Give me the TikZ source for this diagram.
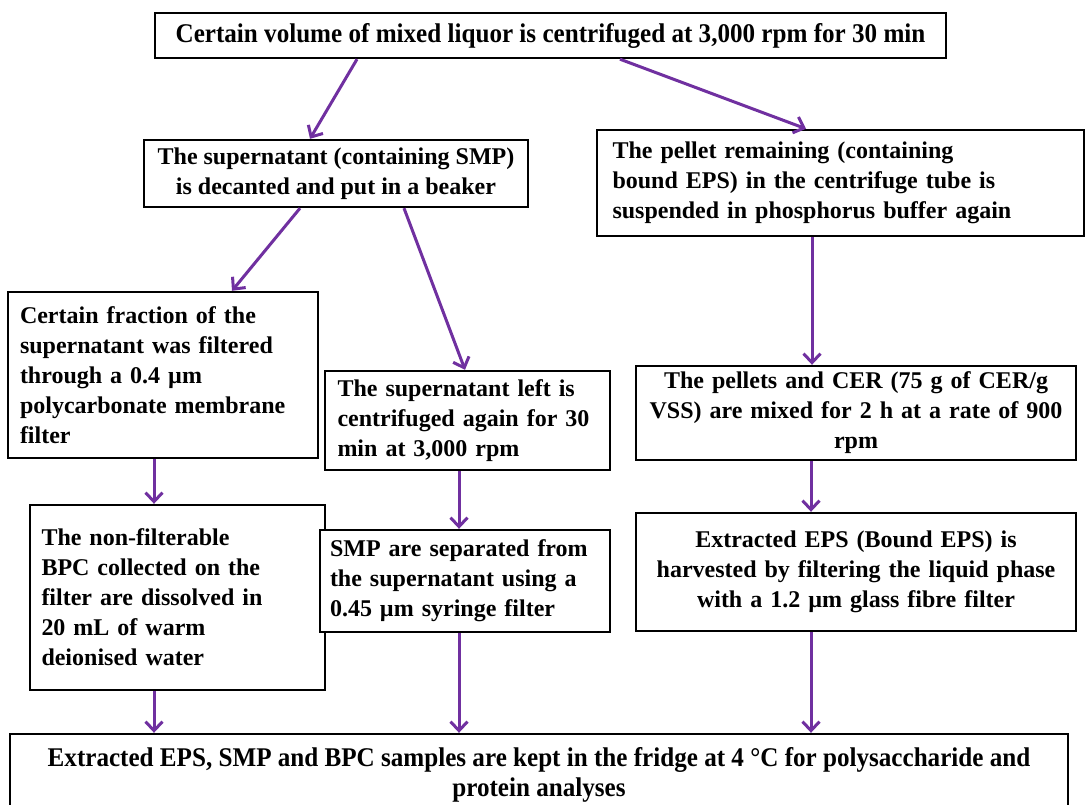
\documentclass[tikz,border=0pt]{standalone}
\usepackage{fontspec}
\setmainfont{Liberation Serif}
\usepackage{xcolor}
\usetikzlibrary{arrows.meta, calc}
\definecolor{FlowPurple}{HTML}{7030A0}
\definecolor{FlowBlack}{HTML}{000000}
\definecolor{FlowWhite}{HTML}{FFFFFF}
\newfontfamily\narrowfont{Liberation Serif}[FakeStretch=0.93]
\tikzset{
    stepbox/.style={
        draw=FlowBlack,
        line width=2.4pt,
        fill=FlowWhite,
        text=FlowBlack,
        font=\fontsize{24}{30}\selectfont\bfseries,
        inner xsep=8pt,
        inner ysep=2pt,
        align=left
    },
    widebox/.style={
        stepbox,
        font=\fontsize{27}{30}\selectfont\narrowfont\bfseries,
        align=center
    },
    flow/.style={
        -{Straight Barb[length=9pt,width=17pt,line width=3pt]},
        line width=3pt,
        FlowPurple
    }
}

\begin{document}
\begin{tikzpicture}[x=1pt, y=-1pt]
        \useasboundingbox (0,0) rectangle (1087,805);

        % First centrifuging
        \node[widebox, minimum width=791pt, minimum height=45pt] (mix) at (550.5,35.5) {Certain volume of mixed liquor is centrifuged at 3,000 rpm for 30 min};

        % Second row
        \node[stepbox, align=center, minimum width=384pt, minimum height=67pt] (sup) at (336,173.5) {
            The supernatant (containing SMP)\\
            is decanted and put in a beaker
        };
        \node[stepbox, minimum width=487pt, minimum height=106pt, text width=456pt] (pellet) at (840.5,183) {
            The pellet remaining (containing\\
            bound EPS) in the centrifuge tube is\\
            suspended in phosphorus buffer again
        };

        % Third row
        \node[stepbox, minimum width=310pt, minimum height=166pt, text width=286pt] (frac) at (163,375) {
            Certain fraction of the\\
            supernatant was filtered\\
            through a 0.4 µm\\
            polycarbonate membrane\\
            filter
        };
        \node[stepbox, minimum width=285pt, minimum height=99pt, text width=260pt] (left) at (467.5,420.5) {
            The supernatant left is\\
            centrifuged again for 30\\
            min at 3,000 rpm
        };
        \node[stepbox, align=center, minimum width=440pt, minimum height=94pt, text width=422pt] (cer) at (856,413) {
            The pellets and CER (75 g of CER/g\\
            VSS) are mixed for 2 h at a rate of 900\\
            rpm
        };

        % Fourth row
        \node[stepbox, minimum width=295pt, minimum height=185pt, text width=272pt] (nonf) at (177.5,597.5) {
            The non-filterable\\
            BPC collected on the\\
            filter are dissolved in\\
            20 mL of warm\\
            deionised water
        };
        \node[stepbox, minimum width=290pt, minimum height=102pt, text width=270pt] (smp) at (465,581) {
            SMP are separated from\\
            the supernatant using a\\
            0.45 µm syringe filter
        };
        \node[stepbox, align=center, minimum width=440pt, minimum height=118pt, text width=422pt] (eps) at (856,572) {
            Extracted EPS (Bound EPS) is\\
            harvested by filtering the liquid phase\\
            with a 1.2 µm glass fibre filter
        };

        % Storage
        \node[widebox, minimum width=1058pt, minimum height=82pt] (store) at (539,775) {
            Extracted EPS, SMP and BPC samples are kept in the fridge at 4 °C for polysaccharide and\\
            protein analyses
        };

        % Arrows
        \draw[flow] ([xshift=-193.5pt]mix.south) -- ([xshift=-26pt]sup.north);
        \draw[flow] ([xshift=69.5pt]mix.south) -- ([xshift=-34.5pt]pellet.north);
        \draw[flow] ([xshift=-36pt]sup.south) -- ([xshift=69pt]frac.north);
        \draw[flow] ([xshift=68pt]sup.south) -- ([xshift=-2.5pt]left.north);
        \draw[flow] ([xshift=-28.5pt]pellet.south) -- ([xshift=-28.5pt]pellet.south |- cer.north);
        \draw[flow] ([xshift=-9pt]frac.south) -- ([xshift=-9pt]frac.south |- nonf.north);
        \draw[flow] ([xshift=-8.5pt]left.south) -- ([xshift=-8.5pt]left.south |- smp.north);
        \draw[flow] ([xshift=-45pt]cer.south) -- ([xshift=-45pt]cer.south |- eps.north);
        \draw[flow] ([xshift=-23.5pt]nonf.south) -- ([xshift=-23.5pt]nonf.south |- store.north);
        \draw[flow] ([xshift=-6pt]smp.south) -- ([xshift=-6pt]smp.south |- store.north);
        \draw[flow] ([xshift=-45pt]eps.south) -- ([xshift=-45pt]eps.south |- store.north);
    \end{tikzpicture}
\end{document}
